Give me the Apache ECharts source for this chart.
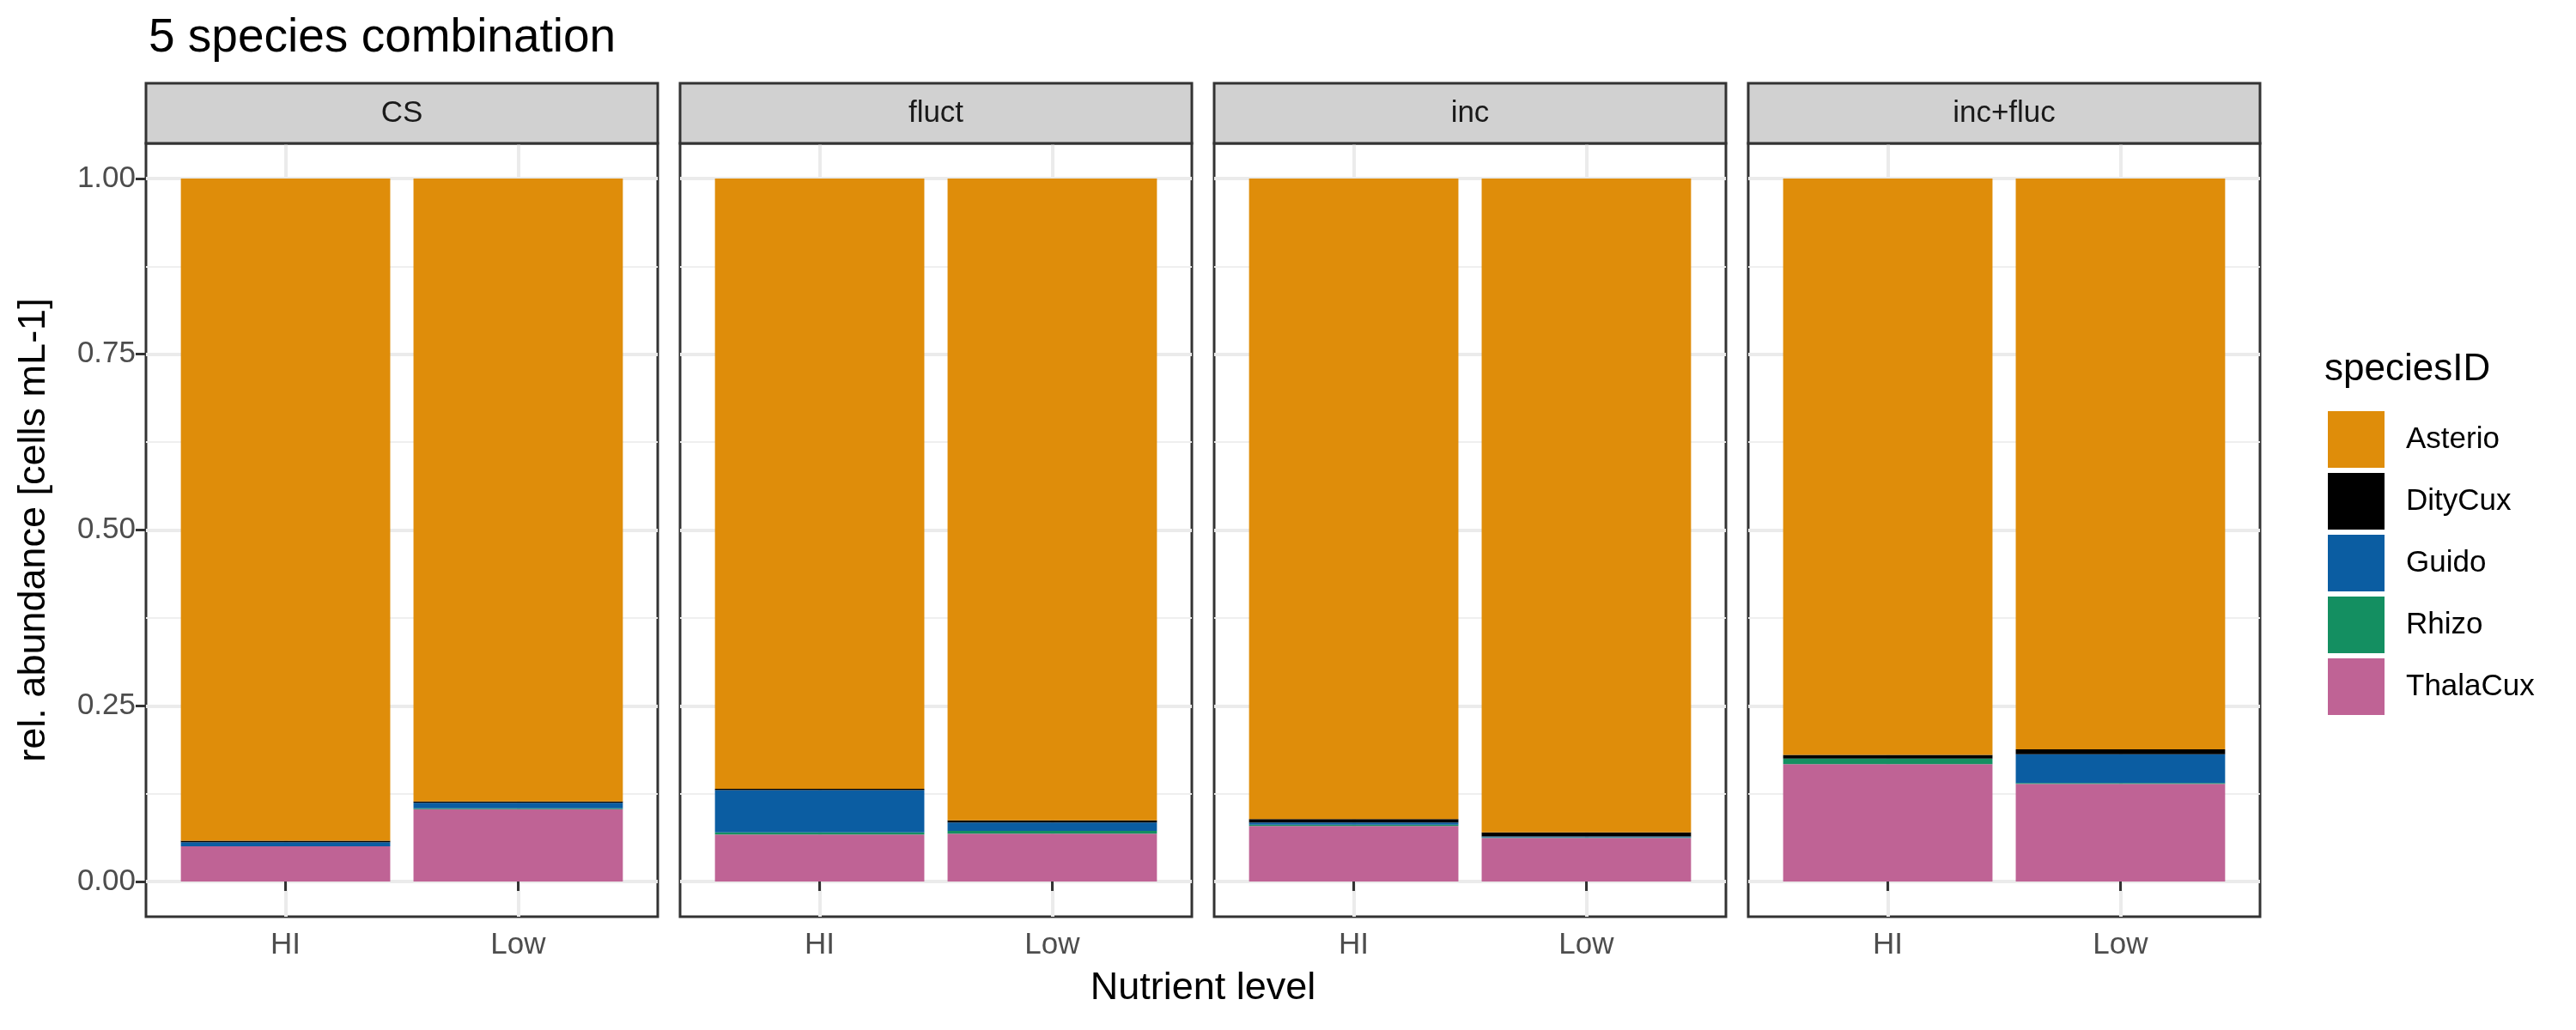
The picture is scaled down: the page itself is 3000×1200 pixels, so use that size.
<!DOCTYPE html>
<html>
<head>
<meta charset="utf-8">
<script src="https://cdn.jsdelivr.net/npm/echarts@6/dist/echarts.min.js"></script>
<style>
  html, body { margin: 0; padding: 0; background: #fff; }
  #chart { width: 3000px; height: 1200px; }
</style>
</head>
<body>
<div id="chart"></div>
<script>
// facets and x categories
const treatments = ['CS', 'fluct', 'inc', 'inc+fluc'];
const levels = ['HI', 'Low'];

// relative abundance, order: CS-HI, CS-Low, fluct-HI, fluct-Low, inc-HI, inc-Low, inc+fluc-HI, inc+fluc-Low
const thalaCux = [0.050, 0.103, 0.067, 0.068, 0.079, 0.062, 0.167, 0.139];
const rhizo    = [0.000, 0.001, 0.003, 0.004, 0.002, 0.001, 0.008, 0.001];
const guido    = [0.006, 0.008, 0.060, 0.012, 0.003, 0.001, 0.000, 0.041];
const dityCux  = [0.002, 0.002, 0.002, 0.003, 0.005, 0.006, 0.005, 0.007];
const asterio  = [0.942, 0.886, 0.868, 0.913, 0.911, 0.930, 0.820, 0.812];

const yTicks = [0, 0.25, 0.5, 0.75, 1];
const yMinor = [0.125, 0.375, 0.625, 0.875];

// bottom to top, like the ggplot stack
const stackOrder = [
  { name: 'ThalaCux', values: thalaCux, color: '#BF6395' },
  { name: 'Rhizo', values: rhizo, color: '#148F61' },
  { name: 'Guido', values: guido, color: '#0B5DA2' },
  { name: 'DityCux', values: dityCux, color: '#000000' },
  { name: 'Asterio', values: asterio, color: '#DF8D0A' }
];
const legendOrder = ['Asterio', 'DityCux', 'Guido', 'Rhizo', 'ThalaCux'];

const FONT = '"Liberation Sans", Arial, sans-serif';
const panelLeft = 170, panelStep = 622, panelW = 596;
const plotTop = 167, plotH = 901, stripTop = 97;

const chart = echarts.init(document.getElementById('chart'));

const grids = [], xAxes = [], yAxes = [], series = [], graphics = [];

treatments.forEach(function (t, i) {
  const left = panelLeft + i * panelStep;
  grids.push({
    left: left, top: plotTop, width: panelW, height: plotH,
    show: true, backgroundColor: '#fff', borderColor: '#333333', borderWidth: 3
  });
  xAxes.push({
    type: 'value', gridIndex: i, min: 0.4, max: 2.6,
    axisLine: { show: false },
    axisTick: { show: true, customValues: [1, 2], length: 11, lineStyle: { color: '#333333', width: 3 } },
    axisLabel: {
      customValues: [1, 2], margin: 16, fontSize: 35, color: '#4D4D4D', fontFamily: FONT,
      formatter: function (v) { return levels[Math.round(v) - 1]; }
    },
    splitLine: { show: true, lineStyle: { color: '#EBEBEB', width: 4 } }
  });
  // main y axis
  yAxes.push({
    type: 'value', gridIndex: i, min: -0.05, max: 1.05,
    name: i === 0 ? 'rel. abundance [cells mL-1]' : '',
    nameLocation: 'middle', nameGap: 108,
    nameTextStyle: { fontSize: 45, color: '#000', fontFamily: FONT },
    axisLine: { show: false },
    axisTick: { show: i === 0, customValues: yTicks, length: 12, lineStyle: { color: '#333333', width: 3 } },
    axisLabel: {
      show: i === 0, customValues: yTicks, margin: 12, fontSize: 35, color: '#4D4D4D', fontFamily: FONT,
      formatter: function (v) { return v.toFixed(2); }
    },
    splitLine: { show: true, lineStyle: { color: '#EBEBEB', width: 4 } }
  });
  // minor grid lines
  yAxes.push({
    type: 'value', gridIndex: i, min: -0.05, max: 1.05,
    axisLine: { show: false },
    axisTick: { show: false, customValues: yMinor },
    axisLabel: { show: false },
    splitLine: { show: true, lineStyle: { color: '#EFEFEF', width: 2 } }
  });

  stackOrder.forEach(function (sp) {
    series.push({
      type: 'bar', name: sp.name, stack: 'p' + i,
      xAxisIndex: i, yAxisIndex: i * 2,
      barWidth: '90%',
      itemStyle: { color: sp.color },
      // value first so the stack runs along y
      encode: { x: 1, y: 0 },
      data: levels.map(function (lv, j) { return [sp.values[i * 2 + j], j + 1]; })
    });
  });

  // facet strip
  graphics.push({
    type: 'rect', z: 10,
    shape: { x: left, y: stripTop, width: panelW, height: plotTop - stripTop },
    style: { fill: '#D1D1D1', stroke: '#333333', lineWidth: 3 }
  });
  graphics.push({
    type: 'text', z: 11, x: left + panelW / 2, y: (stripTop + plotTop) / 2,
    style: {
      text: t, font: '35px ' + FONT, fill: '#1A1A1A',
      align: 'center', verticalAlign: 'middle', textAlign: 'center', textVerticalAlign: 'middle'
    }
  });
});

graphics.push({
  type: 'text', x: panelLeft + (3 * panelStep + panelW) / 2, y: 1152,
  style: {
    text: 'Nutrient level', font: '45px ' + FONT, fill: '#000',
    align: 'center', verticalAlign: 'middle', textAlign: 'center', textVerticalAlign: 'middle'
  }
});

const option = {
  animation: false,
  backgroundColor: '#fff',
  textStyle: { fontFamily: FONT },
  title: [
    { text: '5 species combination', left: 168, top: 12, textStyle: { fontSize: 55, fontWeight: 'normal', color: '#000', fontFamily: FONT } },
    { text: 'speciesID', left: 2702, top: 404, textStyle: { fontSize: 44, fontWeight: 'normal', color: '#000', fontFamily: FONT } }
  ],
  legend: {
    data: legendOrder, orient: 'vertical', left: 2706, top: 474,
    icon: 'rect', itemWidth: 66, itemHeight: 66, itemGap: 6,
    selectedMode: false,
    textStyle: { fontSize: 35, color: '#000', fontFamily: FONT, padding: [0, 0, 0, 20] }
  },
  grid: grids,
  xAxis: xAxes,
  yAxis: yAxes,
  series: series,
  graphic: graphics
};

chart.setOption(option);
</script>
</body>
</html>
